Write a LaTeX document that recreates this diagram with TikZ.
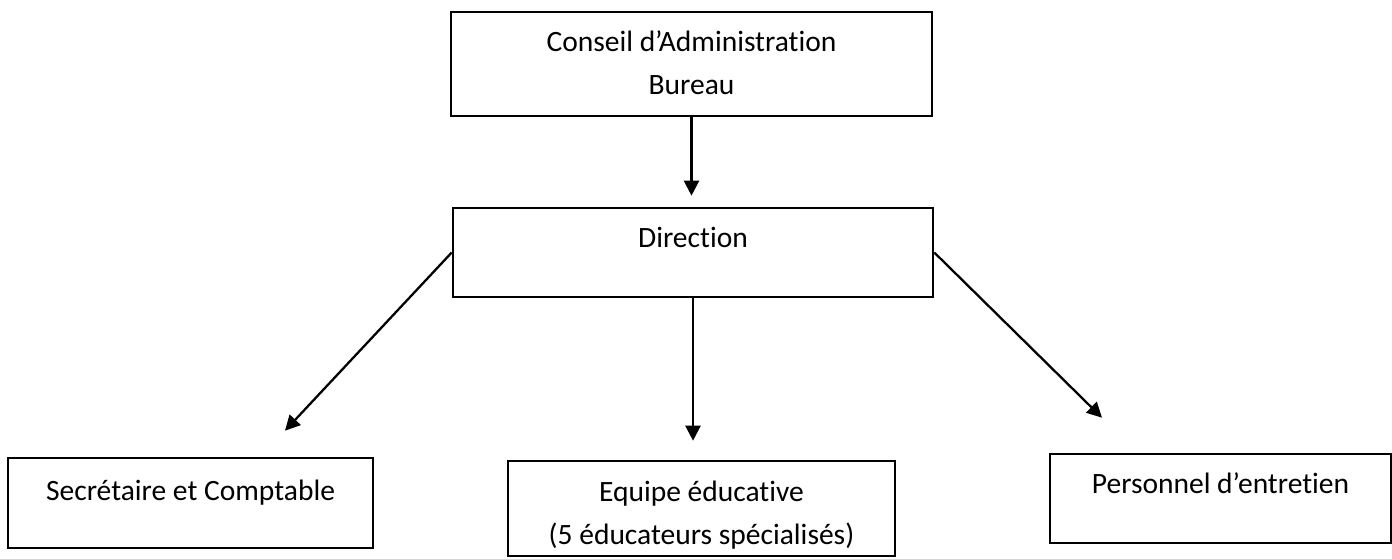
\documentclass[tikz,border=0pt]{standalone}
\usepackage{fontspec}
\setmainfont{Carlito}[Ligatures=NoCommon]
\usetikzlibrary{calc,arrows.meta}
\tikzstyle{post}=[draw, line width=1.5pt, inner sep=0, font=\fontsize{16.8pt}{24.5pt}\selectfont, align=center]
\tikzstyle{link}=[line width=1.3pt, -{Triangle[length=0.3cm, width=0.3cm]}]

\begin{document}
\begin{tikzpicture}[x=0.02cm, y=0.02cm]
\useasboundingbox (0,0) rectangle (1392,558);

\node [post, minimum width=9.62cm, text height=1.66cm, text depth=0.42cm] (conseil)   at ( 691.5, 494  ) {Conseil d’Administration\\Bureau};
\node [post, minimum width=9.6cm,  text height=0.8cm,  text depth=0.98cm] (direction) at ( 693  , 305.5) {Direction};
\node [post, minimum width=7.3cm,  text height=0.84cm, text depth=0.96cm] (secr)      at ( 190.5,  55  ) {Secrétaire et Comptable};
\node [post, minimum width=7.74cm, text height=1.68cm, text depth=0.22cm] (equipe)    at ( 701.5,  49.5) {Equipe éducative\\(5 éducateurs spécialisés)};
\node [post, minimum width=6.82cm, text height=0.78cm, text depth=1.0cm ] (pers)      at (1220.5,  59.5) {Personnel d’entretien};

\coordinate (secr-tip) at ($(secr.north)+(94.5,26)$);
\coordinate (pers-tip) at ($(pers.north)+(-118.5,35)$);

\draw [link, shorten >=0.22cm] (conseil.south) -- (conseil.south |- direction.north);
\draw [link, shorten >=0.38cm] (direction.south) -- (direction.south |- equipe.north);
\draw [link] (direction.west) -- (secr-tip);
\draw [link] (direction.east) -- (pers-tip);

\end{tikzpicture}
\end{document}
